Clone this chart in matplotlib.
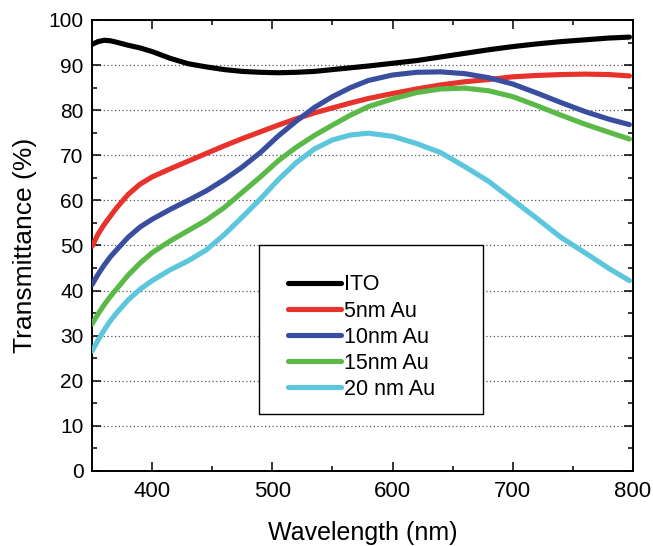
import numpy as np
import matplotlib
matplotlib.use("Agg")
import matplotlib.pyplot as plt
from matplotlib.patches import Rectangle
from matplotlib.ticker import MultipleLocator

plt.rcParams.update({
    "font.family": ["Liberation Sans", "DejaVu Sans"],
    "xtick.direction": "in", "ytick.direction": "in",
    "xtick.top": True, "ytick.right": True,
})

wavelength = [350, 355, 360, 365, 370, 380, 390, 400, 415, 430, 445, 460, 475,
              490, 505, 520, 535, 550, 565, 580, 600, 620, 640, 660, 680, 700,
              720, 740, 760, 780, 797]
ito = [94.6, 95.2, 95.5, 95.4, 95.1, 94.4, 93.8, 93.0, 91.5, 90.3, 89.6, 89.0,
       88.6, 88.4, 88.3, 88.4, 88.6, 89.0, 89.4, 89.8, 90.4, 91.0, 91.8, 92.6,
       93.4, 94.1, 94.7, 95.2, 95.6, 96.0, 96.2]
au5 = [49.8, 52.5, 54.6, 56.4, 58.2, 61.3, 63.6, 65.2, 67.0, 68.7, 70.4, 72.1,
       73.7, 75.2, 76.7, 78.1, 79.4, 80.5, 81.6, 82.6, 83.7, 84.7, 85.6, 86.3,
       86.8, 87.4, 87.7, 87.9, 88.0, 87.9, 87.6]
au10 = [41.3, 43.6, 45.6, 47.4, 48.9, 51.8, 54.1, 55.8, 58.0, 60.0, 62.1, 64.6,
        67.4, 70.6, 74.3, 77.6, 80.6, 83.0, 85.0, 86.6, 87.8, 88.4, 88.5, 88.1,
        87.2, 85.8, 83.8, 81.7, 79.7, 78.0, 76.8]
au15 = [32.6, 34.8, 36.8, 38.6, 40.2, 43.4, 46.1, 48.4, 51.0, 53.3, 55.6, 58.4,
        61.8, 65.2, 68.8, 71.8, 74.4, 76.7, 78.9, 80.8, 82.5, 83.9, 84.7, 84.9,
        84.3, 83.0, 81.0, 78.9, 76.9, 75.1, 73.6]
au20 = [26.6, 29.0, 31.2, 33.2, 34.9, 37.9, 40.3, 42.2, 44.6, 46.6, 49.0, 52.4,
        56.3, 60.3, 64.6, 68.4, 71.4, 73.4, 74.5, 74.9, 74.2, 72.6, 70.6, 67.5,
        64.2, 60.1, 56.0, 51.8, 48.4, 44.9, 42.2]

series = [("ITO", ito, "#000000"), ("5nm Au", au5, "#e8322c"),
          ("10nm Au", au10, "#3a4ea0"), ("15nm Au", au15, "#5bb948"),
          ("20 nm Au", au20, "#5bc6dc")]

fig = plt.figure(figsize=(6.53, 5.46), dpi=100)
ax = fig.add_axes([0.1409, 0.1374, 0.8285, 0.826])

for name, vals, c in series:
    ax.plot(wavelength, vals, color=c, lw=3.7, label=name,
            solid_capstyle="round", zorder=3)

ax.set_xlim(350, 800)
ax.set_ylim(0, 100)
ax.xaxis.set_major_locator(MultipleLocator(100))
ax.xaxis.set_minor_locator(MultipleLocator(50))
ax.yaxis.set_major_locator(MultipleLocator(10))
ax.yaxis.set_minor_locator(MultipleLocator(5))
ax.tick_params(which="major", length=6.5, width=1.1, labelsize=15, pad=6)
ax.tick_params(which="minor", length=3.5, width=1.1)
ax.tick_params(axis="x", labelsize=16, pad=7)
for s in ax.spines.values():
    s.set_linewidth(1.4)

ax.grid(True, axis="y", color="#555555", linestyle=(0, (1, 2)), lw=0.9, zorder=1)
ax.set_axisbelow(True)

ax.set_xlabel("Wavelength (nm)", fontsize=18, labelpad=14)
ax.set_ylabel("Transmittance (%)", fontsize=19, labelpad=8)

# legend box drawn separately: the reference frame is padded unevenly
ax.add_patch(Rectangle((0.309, 0.126), 0.414, 0.375, transform=ax.transAxes,
                       facecolor="white", edgecolor="black", lw=1.0, zorder=4))
leg = ax.legend(loc="upper left", bbox_to_anchor=(0.362, 0.436), frameon=False,
                fontsize=15.5, handlelength=2.46, handletextpad=0.15,
                labelspacing=0.24, borderpad=0, borderaxespad=0)
leg.set_zorder(5)

fig.savefig("out.png", dpi=100)
